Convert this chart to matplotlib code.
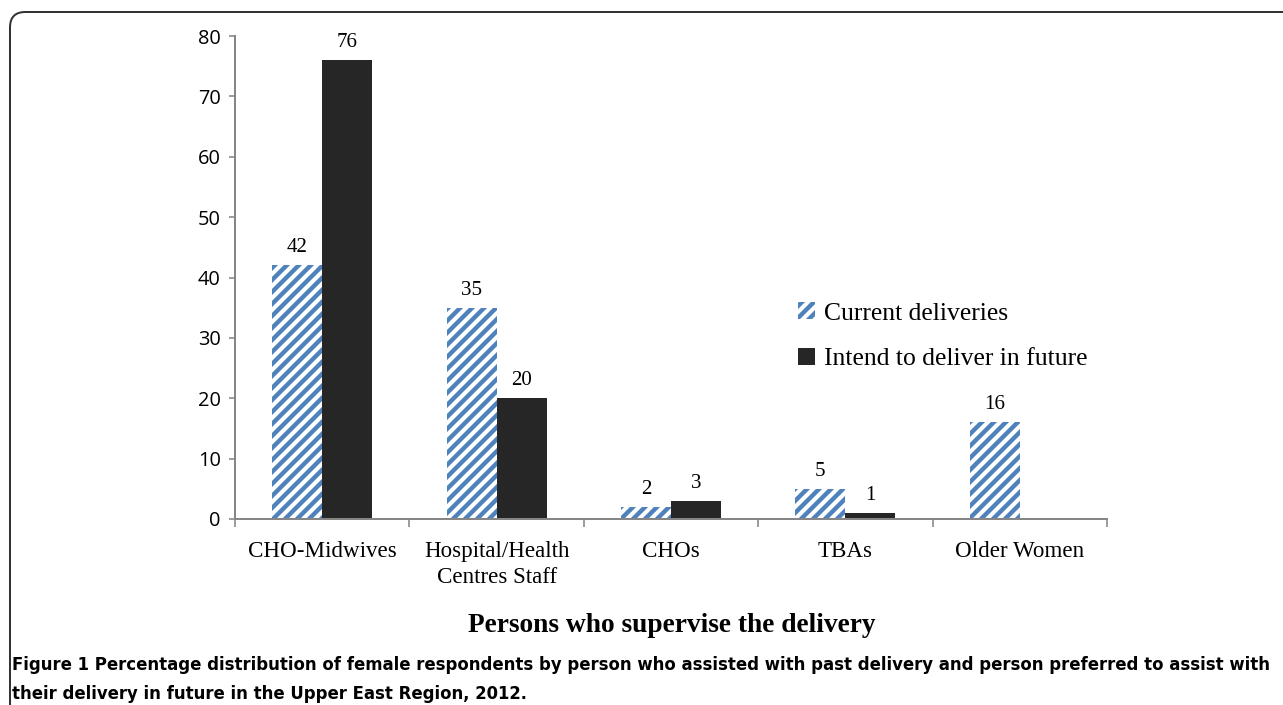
import numpy as np
import matplotlib
matplotlib.use("Agg")
import matplotlib.pyplot as plt
from matplotlib.patches import FancyBboxPatch, Patch

categories = ["CHO-Midwives", "Hospital/Health\nCentres Staff", "CHOs", "TBAs", "Older Women"]
current = [42, 35, 2, 5, 16]
future = [76, 20, 3, 1, None]
yticks = [0, 10, 20, 30, 40, 50, 60, 70, 80]

BLUE = "#4f81bd"
DARK = "#262626"
GRAY = "#868686"
SERIF = ["Liberation Serif", "DejaVu Serif"]

plt.rcParams["hatch.linewidth"] = 2.2

DPI = 144
fig = plt.figure(figsize=(1283 / DPI, 705 / DPI), dpi=DPI)
ax = fig.add_axes([235 / 1283, 186 / 705, 872 / 1283, 483 / 705])

x = np.arange(len(categories))
w = 0.287
cur = np.array(current, dtype=float)
fut = np.array([np.nan if v is None else v for v in future], dtype=float)

ax.bar(x - w / 2, cur, w, color="white", edgecolor=BLUE, linewidth=0, hatch="////")
ax.bar(x + w / 2, np.nan_to_num(fut), w, color=DARK, linewidth=0)

for xi, v in zip(x - w / 2, cur):
    ax.annotate(f"{v:g}", (xi, v), xytext=(0, 4), textcoords="offset points",
                ha="center", va="bottom", family=SERIF, fontsize=10.5)
for xi, v in zip(x + w / 2, fut):
    if not np.isnan(v):
        ax.annotate(f"{v:g}", (xi, v), xytext=(0, 4), textcoords="offset points",
                    ha="center", va="bottom", family=SERIF, fontsize=10.5)

ax.set_xlim(-0.5, len(categories) - 0.5)
ax.set_ylim(0, 80)
ax.set_yticks(yticks)
ax.tick_params(axis="y", direction="out", length=3, width=0.8, color=GRAY, labelsize=10, pad=4)
for lab in ax.get_yticklabels():
    lab.set_family(["Open Sans", "DejaVu Sans"])

ax.set_xticks(np.arange(-0.5, len(categories)), labels=[])
ax.set_xticks(x, labels=categories, minor=True)
ax.tick_params(axis="x", which="major", direction="out", length=4, width=0.8, color=GRAY)
ax.tick_params(axis="x", which="minor", length=0, pad=11)
for lab in ax.get_xticklabels(minor=True):
    lab.set_family(SERIF)
    lab.set_fontsize(11.5)
    lab.set_linespacing(1.32)

for s in ["top", "right"]:
    ax.spines[s].set_visible(False)
for s in ["left", "bottom"]:
    ax.spines[s].set_color(GRAY)
    ax.spines[s].set_linewidth(1.0)

ax.legend(handles=[Patch(facecolor="white", edgecolor=BLUE, linewidth=0, hatch="////"),
                   Patch(facecolor=DARK)],
          labels=["Current deliveries", "Intend to deliver in future"],
          loc="upper left", bbox_to_anchor=(798 / 1283, 1 - 302 / 705),
          bbox_transform=fig.transFigure, frameon=False,
          prop={"family": SERIF, "size": 12.8}, handlelength=0.65, handleheight=0.65,
          handletextpad=0.35, labelspacing=0.91, borderpad=0, borderaxespad=0)

fig.text(672 / 1283, 1 - 625 / 705, "Persons who supervise the delivery", ha="center", va="center",
         family=SERIF, fontsize=13.7, fontweight="bold")

cap_font = ["DejaVu Sans"]
fig.text(12 / 1283, 1 - 665 / 705,
         "Figure 1 Percentage distribution of female respondents by person who assisted with past delivery and person preferred to assist with",
         ha="left", va="center", family=cap_font, fontsize=9.2, fontweight="bold", fontstretch="condensed")
fig.text(12 / 1283, 1 - 694 / 705,
         "their delivery in future in the Upper East Region, 2012.",
         ha="left", va="center", family=cap_font, fontsize=9.2, fontweight="bold", fontstretch="condensed")

frame = FancyBboxPatch((10 / 1283, -0.2), 1.2, 1 - 12 / 705 + 0.2,
                       boxstyle="round,pad=0,rounding_size=0.012",
                       transform=fig.transFigure, facecolor="none",
                       edgecolor="#333333", linewidth=1.0, mutation_aspect=1283 / 705)
fig.patches.append(frame)

fig.savefig("out.png", dpi=DPI)
